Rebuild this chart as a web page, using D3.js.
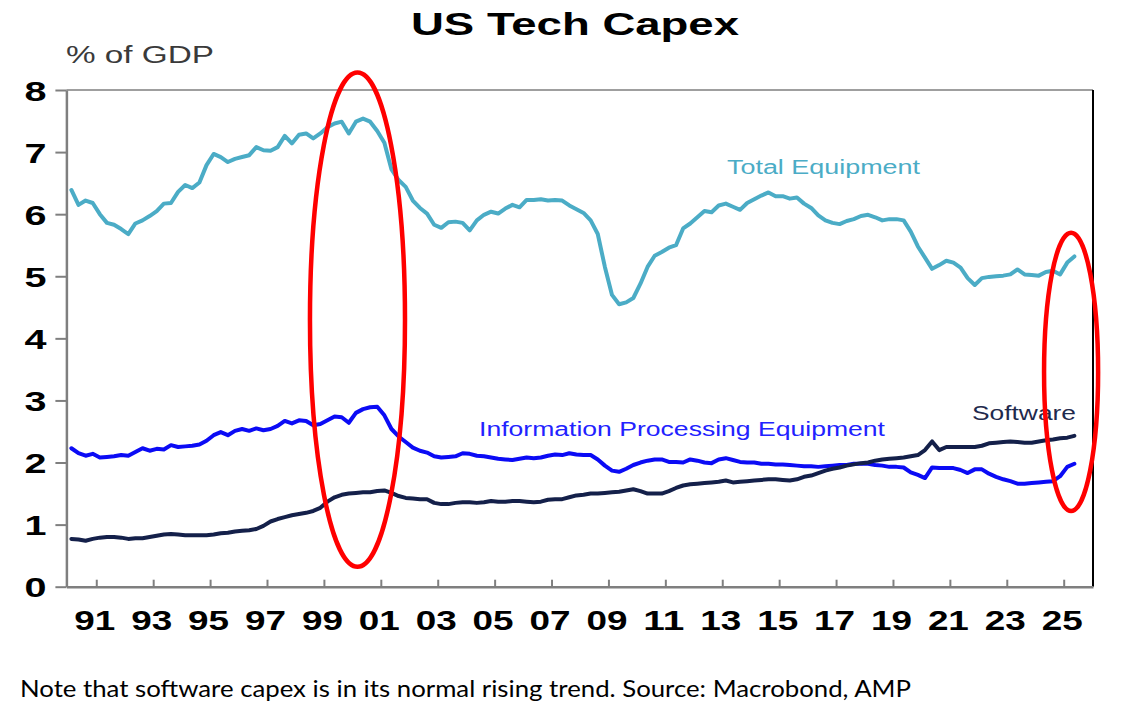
<!DOCTYPE html>
<html>
<head>
<meta charset="utf-8">
<script src="https://cdn.jsdelivr.net/npm/d3@7"></script>
<style>
  body { margin: 0; background: #fff; }
  svg { display: block; }
</style>
</head>
<body>
<svg width="1122" height="724"></svg>
<script>
// quarterly series, % of GDP, starting 1990 Q1
var firstYear = 1990;

var totalEquipment = [
  6.39, 6.15, 6.22, 6.18,  6.00, 5.86, 5.83, 5.76,  5.68, 5.85, 5.90, 5.97,
  6.05, 6.17, 6.18, 6.36,  6.47, 6.42, 6.51, 6.79,  6.97, 6.92, 6.84, 6.89,
  6.92, 6.95, 7.08, 7.03,  7.02, 7.08, 7.26, 7.14,  7.28, 7.30, 7.22, 7.30,
  7.40, 7.46, 7.49, 7.30,  7.49, 7.54, 7.49, 7.34,  7.15, 6.72, 6.55, 6.44,
  6.22, 6.10, 6.01, 5.83,  5.78, 5.87, 5.88, 5.86,  5.74, 5.90, 5.99, 6.04,
  6.01, 6.09, 6.15, 6.11,  6.23, 6.23, 6.24, 6.22,  6.23, 6.22, 6.14, 6.08,
  6.02, 5.90, 5.68, 5.15,  4.70, 4.55, 4.58, 4.65,  4.88, 5.15, 5.33, 5.39,
  5.46, 5.50, 5.77, 5.85,  5.95, 6.05, 6.03, 6.14,  6.17, 6.12, 6.07, 6.18,
  6.24, 6.30, 6.35, 6.29,  6.29, 6.25, 6.27, 6.17,  6.10, 5.98, 5.90, 5.86,
  5.84, 5.89, 5.92, 5.97,  5.99, 5.95, 5.90, 5.92,  5.92, 5.90, 5.72, 5.48,
  5.30, 5.12, 5.18, 5.25,  5.22, 5.14, 4.97, 4.86,  4.97, 4.99, 5.00, 5.01,
  5.03, 5.11, 5.03, 5.02,  5.01, 5.07, 5.09, 5.03,  5.22, 5.32
];

var infoProcessing = [
  2.23, 2.15, 2.11, 2.14,  2.08, 2.09, 2.10, 2.12,  2.11, 2.17, 2.23, 2.19,
  2.22, 2.21, 2.28, 2.25,  2.26, 2.27, 2.29, 2.35,  2.44, 2.49, 2.44, 2.51,
  2.54, 2.51, 2.55, 2.52,  2.54, 2.59, 2.67, 2.63,  2.68, 2.67, 2.60, 2.62,
  2.68, 2.74, 2.73, 2.64,  2.80, 2.86, 2.89, 2.90,  2.76, 2.54, 2.42, 2.33,
  2.24, 2.19, 2.16, 2.10,  2.08, 2.09, 2.10, 2.15,  2.14, 2.11, 2.10, 2.08,
  2.06, 2.05, 2.04, 2.06,  2.08, 2.07, 2.08, 2.11,  2.13, 2.12, 2.15, 2.13,
  2.12, 2.12, 2.05, 1.95,  1.87, 1.85, 1.90, 1.96,  2.00, 2.03, 2.05, 2.05,
  2.01, 2.01, 2.00, 2.05,  2.03, 2.00, 1.99, 2.05,  2.07, 2.04, 2.01, 2.00,
  2.00, 1.98, 1.98, 1.97,  1.97, 1.96, 1.95, 1.94,  1.94, 1.93, 1.94, 1.95,
  1.96, 1.96, 1.98, 1.98,  1.98, 1.96, 1.95, 1.93,  1.93, 1.92, 1.84, 1.80,
  1.75, 1.92, 1.91, 1.91,  1.91, 1.88, 1.83, 1.89,  1.89, 1.82, 1.77, 1.73,
  1.70, 1.66, 1.66, 1.67,  1.68, 1.69, 1.70, 1.78,  1.93, 1.98
];

var software = [
  0.77, 0.76, 0.74, 0.77,  0.79, 0.80, 0.80, 0.79,  0.77, 0.78, 0.78, 0.80,
  0.82, 0.84, 0.85, 0.84,  0.83, 0.83, 0.83, 0.83,  0.84, 0.86, 0.87, 0.89,
  0.90, 0.91, 0.93, 0.98,  1.05, 1.09, 1.12, 1.15,  1.17, 1.19, 1.22, 1.27,
  1.37, 1.44, 1.48, 1.50,  1.51, 1.52, 1.52, 1.54,  1.55, 1.51, 1.46, 1.43,
  1.42, 1.41, 1.41, 1.35,  1.33, 1.33, 1.35, 1.36,  1.36, 1.35, 1.36, 1.38,
  1.37, 1.37, 1.38, 1.38,  1.37, 1.36, 1.37, 1.40,  1.41, 1.41, 1.44, 1.47,
  1.48, 1.50, 1.50, 1.51,  1.52, 1.53, 1.55, 1.57,  1.54, 1.50, 1.50, 1.50,
  1.54, 1.59, 1.63, 1.65,  1.66, 1.67, 1.68, 1.69,  1.71, 1.68, 1.69, 1.70,
  1.71, 1.72, 1.73, 1.73,  1.72, 1.71, 1.73, 1.77,  1.79, 1.83, 1.87, 1.90,
  1.92, 1.95, 1.97, 1.99,  2.00, 2.03, 2.05, 2.06,  2.07, 2.08, 2.10, 2.12,
  2.20, 2.34, 2.20, 2.25,  2.25, 2.25, 2.25, 2.25,  2.27, 2.31, 2.32, 2.33,
  2.34, 2.33, 2.32, 2.32,  2.34, 2.36, 2.37, 2.39,  2.40, 2.43
];

var yTicks = [0, 1, 2, 3, 4, 5, 6, 7, 8];
var xTicks = [1991, 1993, 1995, 1997, 1999, 2001, 2003, 2005, 2007, 2009,
              2011, 2013, 2015, 2017, 2019, 2021, 2023, 2025];

// red highlight ovals: centre (year, value), radii (years, value)
var ovals = [
  { year: 2000.18, value: 4.30, rYears: 1.67, rValue: 3.98 },
  { year: 2025.26, value: 3.46, rYears: 0.95, rValue: 2.24 }
];

var svg = d3.select("svg");
var plotLeft = 66.4, plotRight = 1093, plotTop = 90, plotBottom = 586.7;

var x = d3.scaleLinear().domain([1989.95, 2026.03]).range([plotLeft, plotRight]);
var y = d3.scaleLinear().domain([0, 8]).range([plotBottom, plotTop]);

function quarterYear(i) { return firstYear + (i + 0.5) / 4; }

svg.append("rect").attr("width", 1122).attr("height", 724).attr("fill", "#fff");

// title and unit
svg.append("text")
    .attr("x", 411).attr("y", 35)
    .attr("font-family", "Liberation Sans, Arial, sans-serif")
    .attr("font-weight", "bold").attr("font-size", 32)
    .attr("textLength", 328).attr("lengthAdjust", "spacingAndGlyphs")
    .text("US Tech Capex");

svg.append("text")
    .attr("x", 66).attr("y", 63)
    .attr("font-family", "Liberation Sans, Arial, sans-serif")
    .attr("font-size", 23).attr("fill", "#3a3a3a")
    .attr("textLength", 148).attr("lengthAdjust", "spacingAndGlyphs")
    .text("% of GDP");

// frame: top grey, right black
svg.append("line")
    .attr("x1", plotLeft).attr("x2", plotRight).attr("y1", plotTop).attr("y2", plotTop)
    .attr("stroke", "#7f7f7f").attr("stroke-width", 1.5);
svg.append("line")
    .attr("x1", plotRight).attr("x2", plotRight).attr("y1", plotTop).attr("y2", plotBottom)
    .attr("stroke", "#000").attr("stroke-width", 2);

// axes
var yAxis = svg.append("g")
    .attr("transform", "translate(" + plotLeft + ",0)")
    .call(d3.axisLeft(y).tickValues(yTicks).tickSize(11).tickSizeOuter(0).tickPadding(9));
yAxis.selectAll("text")
    .attr("font-family", "Liberation Sans, Arial, sans-serif")
    .attr("font-weight", "bold").attr("font-size", 28).attr("fill", "#000")
    .attr("dy", "0.36em")
    .attr("textLength", 22).attr("lengthAdjust", "spacingAndGlyphs");

var xAxis = svg.append("g")
    .attr("transform", "translate(0," + plotBottom + ")")
    .call(d3.axisBottom(x).tickValues(xTicks).tickSize(-7).tickSizeOuter(0).tickPadding(23)
        .tickFormat(function(d) { return String(d % 100).padStart(2, "0"); }));
xAxis.selectAll("text")
    .attr("font-family", "Liberation Sans, Arial, sans-serif")
    .attr("font-weight", "bold").attr("font-size", 28).attr("fill", "#000")
    .attr("dx", "-2")
    .attr("textLength", 41).attr("lengthAdjust", "spacingAndGlyphs");

svg.selectAll(".domain").attr("stroke", "#7f7f7f").attr("stroke-width", 2.5);
svg.selectAll(".tick line").attr("stroke", "#7f7f7f").attr("stroke-width", 2);

// lines
var line = d3.line()
    .x(function(d, i) { return x(quarterYear(i)); })
    .y(function(d) { return y(d); });

var series = [
  { values: totalEquipment, color: "#4bacc6" },
  { values: infoProcessing, color: "#0b0bf5" },
  { values: software, color: "#14204a" }
];

series.forEach(function(s) {
  svg.append("path")
      .datum(s.values)
      .attr("d", line)
      .attr("fill", "none")
      .attr("stroke", s.color)
      .attr("stroke-width", 4)
      .attr("stroke-linejoin", "round")
      .attr("stroke-linecap", "round");
});

// series labels
var labels = [
  { text: "Total Equipment", x: 727, y: 174, w: 193, color: "#4bacc6" },
  { text: "Information Processing Equipment", x: 479, y: 436, w: 406, color: "#2222ff" },
  { text: "Software", x: 972, y: 420, w: 104, color: "#1f2a4d" }
];
labels.forEach(function(l) {
  svg.append("text")
      .attr("x", l.x).attr("y", l.y)
      .attr("font-family", "Liberation Sans, Arial, sans-serif")
      .attr("font-size", 20).attr("fill", l.color)
      .attr("textLength", l.w).attr("lengthAdjust", "spacingAndGlyphs")
      .text(l.text);
});

// red ovals
svg.selectAll(".oval")
    .data(ovals)
    .enter().append("ellipse")
    .attr("class", "oval")
    .attr("cx", function(d) { return x(d.year); })
    .attr("cy", function(d) { return y(d.value); })
    .attr("rx", function(d) { return x(d.year + d.rYears) - x(d.year); })
    .attr("ry", function(d) { return y(0) - y(d.rValue); })
    .attr("fill", "none")
    .attr("stroke", "#ff0000")
    .attr("stroke-width", 4.5);

// footnote
svg.append("text")
    .attr("x", 20).attr("y", 697)
    .attr("font-family", "Lato, Carlito, sans-serif")
    .attr("font-size", 24).attr("fill", "#000")
    .attr("textLength", 891).attr("lengthAdjust", "spacingAndGlyphs")
    .text("Note that software capex is in its normal rising trend. Source: Macrobond, AMP");
</script>
</body>
</html>
